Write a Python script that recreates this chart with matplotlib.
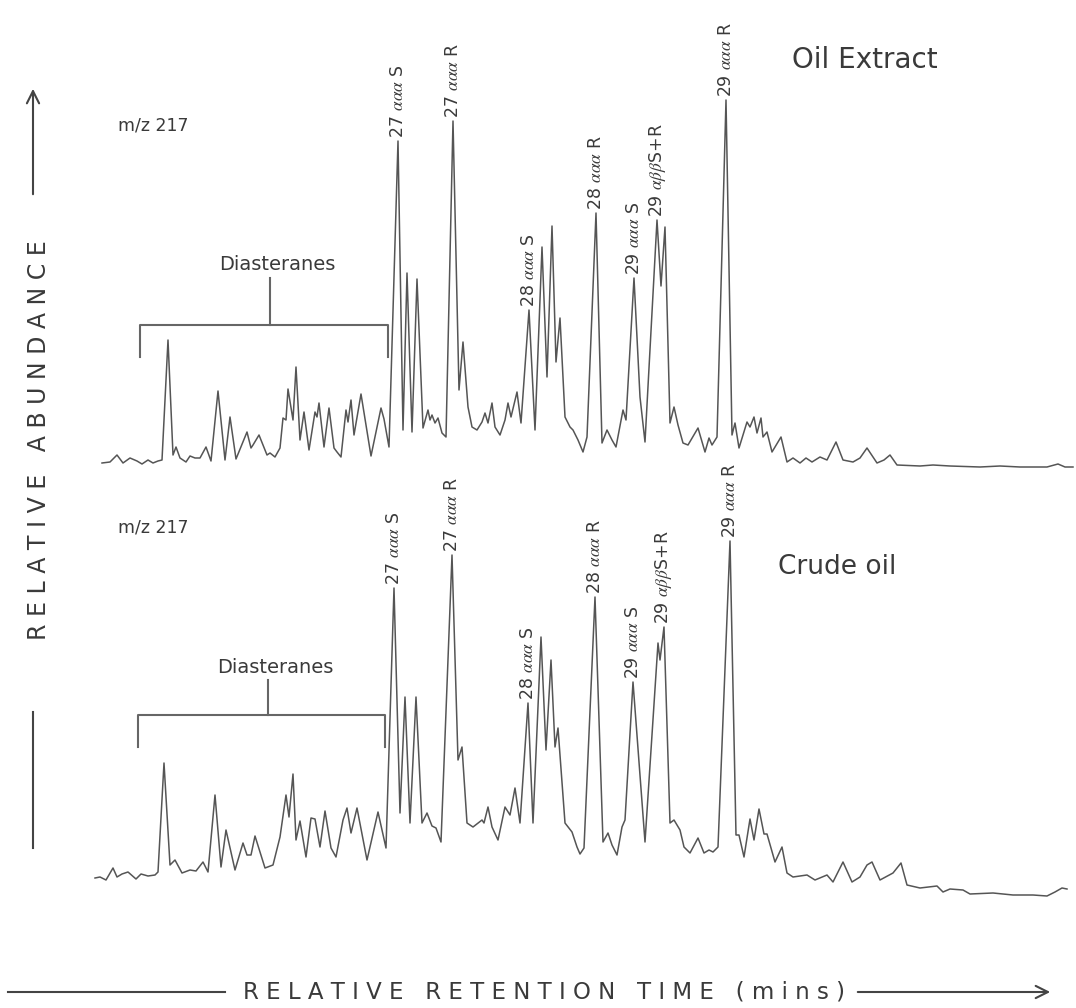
import matplotlib.pyplot as plt
import numpy as np

plt.rcParams["mathtext.fontset"] = "stix"

################################################################################
# m/z 217 traces: retention (arbitrary units), abundance.
extract_rt = [102, 110, 117, 123, 130, 137, 142, 148, 153, 158, 162, 168, 173,
              176, 180, 186, 190, 195, 200, 206, 211, 218, 225, 230, 236, 247,
              251, 253, 259, 263, 267, 270, 275, 280, 283, 286, 288, 293, 296,
              300, 304, 309, 315, 317, 319, 324, 329, 334, 337, 341, 346, 348,
              351, 354, 361, 371, 381, 384, 389, 398, 403, 407, 412, 417, 423,
              428, 430, 432, 435, 438, 442, 446, 453, 459, 463, 468, 472, 477,
              482, 485, 488, 492, 495, 500, 505, 508, 511, 517, 521, 529, 535,
              542, 547, 552, 556, 560, 565, 570, 573, 578, 583, 587, 596, 602,
              607, 612, 616, 623, 626, 634, 640, 645, 657, 661, 665, 670, 674,
              678, 683, 688, 698, 705, 709, 712, 717, 726, 732, 735, 739, 747,
              750, 754, 757, 761, 763, 767, 772, 781, 787, 793, 800, 806, 812,
              820, 827, 836, 843, 853, 860, 867, 877, 884, 890, 897, 920, 933,
              950, 980, 1000, 1020, 1047, 1058, 1065, 1073]
extract_abund = [7, 8, 15, 7, 12, 9, 6, 10, 7, 9, 10, 130, 15,
                 23, 12, 8, 14, 12, 12, 23, 9, 79, 10, 53, 11, 38,
                 22, 25, 35, 25, 15, 17, 13, 22, 52, 50, 81, 50, 103,
                 30, 58, 20, 58, 53, 67, 23, 62, 22, 18, 13, 60, 48,
                 70, 35, 76, 14, 62, 51, 23, 329, 40, 197, 38, 191, 42,
                 60, 50, 55, 47, 52, 37, 33, 349, 80, 128, 63, 43, 40,
                 48, 57, 47, 67, 43, 35, 50, 67, 53, 78, 47, 160, 40,
                 223, 93, 244, 108, 152, 53, 43, 40, 30, 18, 33, 257, 27,
                 40, 30, 23, 60, 50, 192, 73, 28, 250, 184, 243, 47, 63,
                 45, 27, 25, 42, 18, 32, 25, 33, 370, 35, 47, 22, 48,
                 43, 53, 37, 52, 33, 38, 18, 33, 8, 12, 7, 12, 8,
                 13, 10, 28, 10, 8, 12, 22, 7, 10, 15, 5, 4, 5,
                 4, 3, 4, 3, 3, 6, 3, 3]

crude_rt = [95, 100, 106, 113, 117, 122, 128, 136, 141, 148, 155, 158, 164,
            170, 175, 182, 190, 196, 203, 208, 215, 221, 226, 235, 243, 247,
            251, 255, 260, 265, 273, 280, 286, 289, 293, 296, 300, 306, 311,
            315, 320, 325, 331, 336, 343, 347, 351, 357, 367, 378, 386, 394,
            400, 405, 410, 416, 422, 427, 432, 436, 441, 452, 458, 462, 467,
            473, 482, 484, 488, 492, 498, 505, 510, 515, 520, 528, 533, 541,
            546, 551, 555, 558, 565, 572, 577, 580, 584, 595, 603, 608, 612,
            617, 622, 625, 633, 645, 658, 660, 664, 670, 674, 680, 684, 690,
            698, 704, 709, 713, 718, 730, 736, 739, 744, 750, 754, 759, 764,
            767, 775, 782, 787, 793, 807, 815, 827, 833, 843, 852, 860, 867,
            872, 880, 893, 901, 907, 920, 937, 943, 950, 963, 970, 993, 1013,
            1033, 1047, 1055, 1062, 1067]
crude_abund = [22, 23, 20, 32, 23, 26, 28, 21, 26, 24, 25, 28, 137,
               35, 40, 27, 30, 29, 38, 28, 105, 33, 70, 30, 57, 45,
               45, 64, 48, 32, 35, 63, 105, 83, 126, 60, 79, 43, 82,
               81, 53, 89, 52, 43, 80, 92, 67, 92, 40, 88, 52, 312,
               87, 203, 77, 203, 77, 87, 74, 72, 58, 345, 140, 153, 77,
               73, 80, 77, 93, 73, 60, 93, 85, 112, 77, 197, 77, 263,
               150, 240, 153, 172, 77, 68, 53, 46, 52, 303, 58, 67, 55,
               45, 73, 80, 218, 58, 257, 240, 273, 77, 80, 70, 53, 47,
               62, 47, 50, 48, 53, 359, 65, 65, 43, 81, 60, 91, 66,
               66, 38, 53, 27, 23, 25, 20, 25, 18, 38, 18, 23, 35,
               38, 20, 27, 37, 15, 12, 14, 8, 11, 10, 6, 7, 5,
               5, 4, 8, 12, 11]

# sterane peak assignments
peak_labels = ["27 $\\alpha\\alpha\\alpha$ S", "27 $\\alpha\\alpha\\alpha$ R",
               "28 $\\alpha\\alpha\\alpha$ S", "28 $\\alpha\\alpha\\alpha$ R",
               "29 $\\alpha\\alpha\\alpha$ S", "29 $\\alpha\\beta\\beta$S+R",
               "29 $\\alpha\\alpha\\alpha$ R"]
extract_label_rt = [398, 453, 529, 596, 634, 658, 726]
crude_label_rt = [394, 452, 528, 595, 633, 663, 730]

# diasterane elution window
extract_dia = [140, 388]
crude_dia = [138, 385]

trace_color = "#555555"
text_color = "#3a3a3a"

################################################################################
fig = plt.figure(figsize=(10.76, 10.08), dpi=100)

# Whole-figure frame for the axis arrows and titles (pixel units).
frame = fig.add_axes([0, 0, 1, 1])
frame.set_xlim(0, 1076)
frame.set_ylim(1008, 0)
frame.axis("off")

ax_top = fig.add_axes([0, 1 - 480 / 1008, 1, 480 / 1008])
ax_top.set_xlim(0, 1076)
ax_top.set_ylim(-10, 470)

ax_bot = fig.add_axes([0, 1 - 930 / 1008, 1, 450 / 1008])
ax_bot.set_xlim(0, 1076)
ax_bot.set_ylim(-30, 420)


def peak_height(rt, ab, x0):
    rt = np.asarray(rt)
    ab = np.asarray(ab)
    return ab[np.abs(rt - x0) <= 6].max()


# Draws one chromatogram with its peak labels and the diasterane bracket.
def drawTrace(ax, rt, ab, label_rt, dia, dia_top, dia_leg, dia_stem):
    ax.plot(rt, ab, color=trace_color, lw=1.1)
    for lab, x0 in zip(peak_labels, label_rt):
        ax.text(x0, peak_height(rt, ab, x0) + 3, lab, rotation=90,
                ha="center", va="bottom", fontsize=12.5, color=text_color)
    mid = 270 if dia[0] == 140 else 268
    ax.plot([dia[0], dia[0], dia[1], dia[1]],
            [dia_top - dia_leg, dia_top, dia_top, dia_top - dia_leg],
            color="#666666", lw=1.5)
    ax.plot([mid, mid], [dia_top, dia_top + dia_stem], color="#666666", lw=1.5)
    ax.text(mid + 7, dia_top + dia_stem + 13, "Diasteranes", ha="center",
            va="center", fontsize=14, color=text_color)
    ax.axis("off")


drawTrace(ax_top, extract_rt, extract_abund, extract_label_rt, extract_dia,
          145, 32, 47)
drawTrace(ax_bot, crude_rt, crude_abund, crude_label_rt, crude_dia,
          185, 32, 35)

ax_top.text(118, 345, "m/z 217", ha="left", va="center", fontsize=12.5,
            color=text_color)
ax_bot.text(118, 373, "m/z 217", ha="left", va="center", fontsize=12.5,
            color=text_color)
ax_top.text(865, 410, "Oil Extract", ha="center", va="center", fontsize=20,
            color=text_color)
ax_bot.text(837, 333, "Crude oil", ha="center", va="center", fontsize=19,
            color=text_color)

# Axis arrows and titles.
frame.annotate("", xy=(33, 86), xytext=(33, 197),
               arrowprops=dict(arrowstyle="->", lw=1.5, color="#444444",
                               mutation_scale=22))
frame.plot([33, 33], [712, 848], color="#444444", lw=1.5)
frame.text(39, 440, "R E L A T I V E   A B U N D A N C E", rotation=90,
           ha="center", va="center", fontsize=17, color=text_color)

frame.plot([8, 225], [992, 992], color="#444444", lw=1.5)
frame.annotate("", xy=(1053, 992), xytext=(855, 992),
               arrowprops=dict(arrowstyle="->", lw=1.5, color="#444444",
                               mutation_scale=22))
frame.text(544, 992, "R E L A T I V E   R E T E N T I O N   T I M E   ( m i n s )",
           ha="center", va="center", fontsize=16.5, color=text_color)

fig.savefig("out.png", dpi=100)
